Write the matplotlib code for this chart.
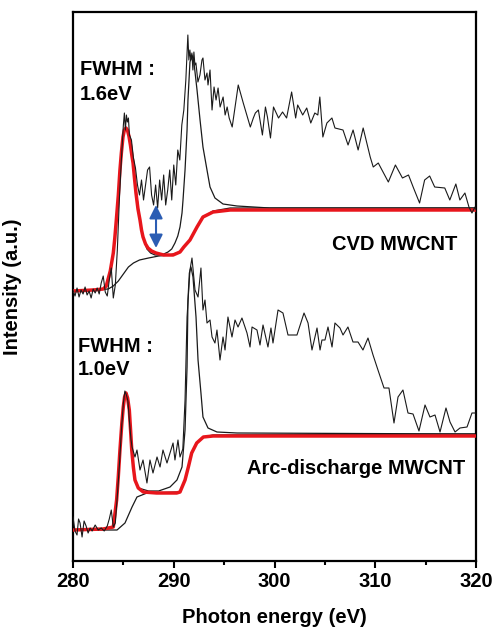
import matplotlib
matplotlib.use("Agg")
import matplotlib.pyplot as plt

plt.rcParams['font.family'] = ['Liberation Sans', 'DejaVu Sans']
plt.rcParams['font.weight'] = 'bold'

# ---- CVD MWCNT (upper spectrum) ----
cvd_x = [280.0, 280.2, 280.4, 280.6, 280.8, 281.0, 281.2, 281.4, 281.6, 281.8,
         282.0, 282.2, 282.4, 282.6, 282.8, 283.0, 283.2, 283.4, 283.6, 283.8,
         284.0, 284.2, 284.4, 284.6, 284.8, 285.0, 285.1, 285.2, 285.3, 285.4,
         285.5, 285.6, 285.8, 286.0, 286.2, 286.4, 286.6, 286.8, 287.0, 287.2,
         287.4, 287.6, 287.8, 288.0, 288.2, 288.4, 288.6, 288.8, 289.0, 289.2,
         289.4, 289.6, 289.8, 290.0, 290.2, 290.4, 290.6, 290.8, 291.0, 291.2,
         291.4, 291.5, 291.6, 291.7, 291.8, 291.9, 292.0, 292.1, 292.2, 292.4,
         292.6, 292.8, 292.9, 293.1, 293.3, 293.4, 293.6, 293.8, 294.0, 294.2,
         294.4, 294.6, 294.9, 295.1, 295.3, 295.5, 295.8, 296.4, 296.9, 297.6,
         297.9, 298.1, 298.4, 298.8, 299.1, 299.3, 299.6, 299.9, 300.4, 300.8,
         301.2, 301.7, 302.1, 302.3, 302.8, 303.2, 303.6, 304.0, 304.3, 304.5,
         304.8, 305.2, 305.7, 306.0, 306.8, 307.3, 307.8, 308.3, 308.8, 309.5,
         309.8, 310.3, 311.3, 312.0, 312.7, 313.3, 313.8, 314.4, 314.9, 315.4,
         315.9, 316.9, 317.4, 318.0, 318.4, 318.9, 319.3, 319.6, 319.9, 320.0]
cvd_y = [271, 265, 273, 264, 271, 267, 274, 266, 270, 263,
         272, 268, 273, 267, 278, 285, 269, 265, 281, 293,
         263, 276, 311, 361, 401, 436, 448, 431, 446, 439,
         443, 426, 421, 403, 393, 376, 366, 381, 361, 376,
         391, 394, 366, 356, 376, 353, 381, 361, 386, 356,
         371, 391, 361, 396, 376, 411, 401, 436, 451, 481,
         526, 501, 511, 501, 508, 491, 509, 496, 498, 479,
         486, 501, 503, 481, 488, 476, 491, 451, 474, 461,
         473, 454, 464, 446, 454, 443, 434, 476, 458, 434,
         443, 448, 451, 426, 454, 444, 423, 454, 443, 449,
         443, 469, 443, 456, 446, 453, 438, 448, 446, 464,
         424, 438, 443, 433, 431, 416, 431, 411, 433, 404,
         394, 398, 379, 396, 383, 386, 373, 358, 381, 385,
         374, 373, 361, 377, 361, 368, 354, 348, 354, 351]

cvd_pi_x = [280.0, 282.0, 283.0, 283.3, 283.7, 284.0, 284.15, 284.3, 284.5, 284.66,
            284.8, 284.96, 285.1, 285.26, 285.4, 285.55, 285.7, 285.85, 285.96, 286.1,
            286.25, 286.45, 286.65, 286.8, 286.95, 287.2, 287.44, 287.8, 288.24, 289.0,
            289.93, 290.62, 291.0, 291.61, 292.31, 292.9, 293.9, 295.6, 298.0, 320.0]
cvd_pi_y = [270, 271, 272, 275, 290, 308, 323, 341, 366, 391,
            408, 424, 431, 433, 431, 425, 416, 405, 398, 383,
            368, 352, 341, 331, 324, 317, 313, 310, 308, 306,
            306, 309, 314, 321, 334, 344, 349, 351, 351, 351]

cvd_fit_x = [286.0, 286.35, 286.6, 286.85, 287.1, 287.34, 287.7, 288.14, 288.8, 289.43,
             289.8, 290.12, 290.4, 290.62, 290.82, 290.92, 291.12, 291.32, 291.41, 291.61,
             291.81, 292.0, 292.31, 292.61, 292.9, 293.3, 293.6, 294.09, 294.89, 296.28,
             299.55, 320.0]
cvd_fit_y = [395, 364, 344, 330, 319, 312, 308, 306, 306, 309,
             312, 318, 325, 334, 348, 361, 391, 431, 461, 499,
             506, 499, 471, 441, 414, 391, 374, 363, 357, 355,
             353, 353]

cvd_step_x = [280.0, 283.5, 284.0, 284.5, 285.0, 285.5, 286.0, 286.6, 287.5, 288.5,
              289.6, 290.3, 290.62, 291.0, 291.61, 292.31, 292.9, 293.9, 295.6, 320.0]
cvd_step_y = [270, 272, 275, 280, 287, 294, 298, 301, 303, 305,
              306, 308, 309, 314, 321, 334, 344, 350, 353, 353]

# ---- Arc-discharge MWCNT (lower spectrum) ----
arc_x = [280.0, 280.2, 280.4, 280.55, 280.7, 280.9, 281.1, 281.3, 281.5, 281.7,
         281.9, 282.2, 282.5, 282.8, 283.1, 283.4, 283.6, 283.8, 284.0, 284.2,
         284.4, 284.6, 284.8, 285.0, 285.15, 285.3, 285.45, 285.6, 285.75, 285.86,
         286.15, 286.35, 286.65, 286.95, 287.34, 287.64, 287.94, 288.34, 288.64, 288.93,
         289.33, 289.63, 289.93, 290.12, 290.42, 290.62, 290.9, 291.12, 291.32, 291.61,
         291.81, 292.11, 292.41, 292.7, 292.9, 293.1, 293.3, 293.6, 293.8, 294.09,
         294.29, 294.59, 294.89, 295.09, 295.38, 295.78, 296.08, 296.38, 296.77, 297.27,
         297.57, 297.77, 298.26, 298.56, 298.86, 299.35, 299.65, 299.85, 300.35, 300.84,
         301.34, 302.23, 302.93, 303.33, 303.72, 304.22, 304.52, 304.71, 305.01, 305.31,
         305.71, 306.0, 306.5, 306.8, 307.29, 307.79, 308.29, 308.78, 309.28, 309.78,
         310.27, 310.87, 311.36, 311.86, 312.26, 312.75, 313.25, 313.75, 314.34, 314.94,
         315.43, 315.93, 316.43, 317.02, 317.42, 317.92, 318.41, 319.11, 319.6, 319.9]
arc_y = [44, 30, 26, 42, 38, 24, 40, 35, 28, 33,
         30, 36, 31, 33, 30, 35, 42, 51, 34, 38,
         65, 95, 130, 158, 170, 166, 160, 140, 122, 114,
         104, 111, 91, 101, 78, 101, 88, 104, 94, 111,
         98, 108, 118, 101, 121, 104, 112, 161, 244, 291,
         303, 271, 264, 293, 251, 261, 238, 241, 224, 218,
         231, 201, 224, 211, 244, 224, 241, 234, 243, 228,
         214, 234, 231, 216, 236, 214, 233, 218, 251, 248,
         226, 226, 248, 238, 211, 233, 211, 221, 221, 234,
         214, 238, 233, 226, 234, 219, 219, 211, 223, 206,
         191, 173, 173, 138, 164, 171, 148, 147, 130, 156,
         144, 146, 129, 153, 139, 129, 133, 134, 148, 148]

arc_pi_x = [280.0, 283.0, 284.0, 284.33, 284.5, 284.66, 284.85, 284.99, 285.12, 285.26,
            285.42, 285.59, 285.72, 285.83, 286.0, 286.15, 286.48, 286.98, 288.3, 290.29,
            290.62, 291.12, 291.45, 291.78, 292.28, 292.94, 293.9, 320.0]
arc_pi_y = [31, 32, 34, 61, 85, 111, 138, 154, 164, 168,
            163, 151, 130, 111, 93, 81, 73, 69, 68, 68,
            69, 81, 94, 108, 118, 124, 125, 125]

arc_fit_x = [286.48, 287.5, 288.5, 289.63, 290.32, 290.82, 291.12, 291.32, 291.41, 291.55,
             291.71, 291.91, 292.21, 292.41, 292.7, 292.9, 293.4, 294.29, 296.28, 320.0]
arc_fit_y = [73, 70, 70, 74, 81, 94, 131, 194, 261, 288,
             294, 284, 244, 201, 168, 144, 133, 129, 128, 127]

arc_step_x = [280.0, 284.37, 285.16, 285.86, 286.35, 287.34, 290.32, 290.62, 291.12, 291.45,
              291.78, 292.28, 292.94, 293.9, 320.0]
arc_step_y = [31, 31, 38, 54, 64, 68, 69, 69, 81, 94,
              108, 118, 124, 126, 127]

# gap marker between pi* fit and data (CVD)
arrow_x = 288.24
arrow_y = [313, 356]

fig = plt.figure(figsize=(4.93, 6.31), dpi=100)
ax = fig.add_axes([73 / 493, 70 / 631, 403 / 493, 549 / 631])

red = '#e8161c'
for xs, ys in [(cvd_step_x, cvd_step_y), (cvd_fit_x, cvd_fit_y),
               (arc_step_x, arc_step_y), (arc_fit_x, arc_fit_y)]:
    ax.plot(xs, ys, color='#1a1a1a', lw=0.9, zorder=2)
ax.plot(cvd_pi_x, cvd_pi_y, color=red, lw=2.5, zorder=3, solid_joinstyle='round')
ax.plot(arc_pi_x, arc_pi_y, color=red, lw=2.5, zorder=3, solid_joinstyle='round')
ax.plot(cvd_x, cvd_y, color='#1a1a1a', lw=0.8, zorder=4)
ax.plot(arc_x, arc_y, color='#1a1a1a', lw=0.8, zorder=4)

ax.annotate('', xy=(arrow_x, arrow_y[0]), xytext=(arrow_x, arrow_y[1]),
            arrowprops=dict(arrowstyle='<|-|>', color='#2b5db3', lw=1.5,
                            mutation_scale=20, shrinkA=0, shrinkB=0), zorder=5)

fs = 14.5
ax.text(280.7, 486, 'FWHM :', fontsize=fs, fontweight='bold', va='baseline')
ax.text(280.7, 461, '1.6eV', fontsize=fs, fontweight='bold', va='baseline')
ax.text(280.5, 209, 'FWHM :', fontsize=fs, fontweight='bold', va='baseline')
ax.text(280.5, 186, '1.0eV', fontsize=fs, fontweight='bold', va='baseline')
ax.text(318.2, 311, 'CVD MWCNT', fontsize=fs, fontweight='bold', ha='right', va='baseline')
ax.text(318.9, 87, 'Arc-discharge MWCNT', fontsize=fs, fontweight='bold',
        ha='right', va='baseline')

ax.set_xlim(280, 320)
ax.set_ylim(0, 549)
ax.set_xticks([280, 290, 300, 310, 320])
ax.set_xticks([285, 295, 305, 315], minor=True)
ax.set_yticks([])
ax.tick_params(axis='x', which='major', direction='out', length=5, width=1.5,
               pad=3, labelsize=fs)
ax.tick_params(axis='x', which='minor', direction='out', length=3, width=1.5)
for lab in ax.get_xticklabels():
    lab.set_fontweight('bold')
for sp in ax.spines.values():
    sp.set_linewidth(1.6)

ax.set_xlabel('Photon energy (eV)', fontsize=fs, fontweight='bold')
ax.xaxis.set_label_coords(0.5, -0.086)
ax.set_ylabel('Intensity (a.u.)', fontsize=fs, fontweight='bold')
ax.yaxis.set_label_coords(-0.127, 0.5)

fig.savefig('out.png', dpi=100)
